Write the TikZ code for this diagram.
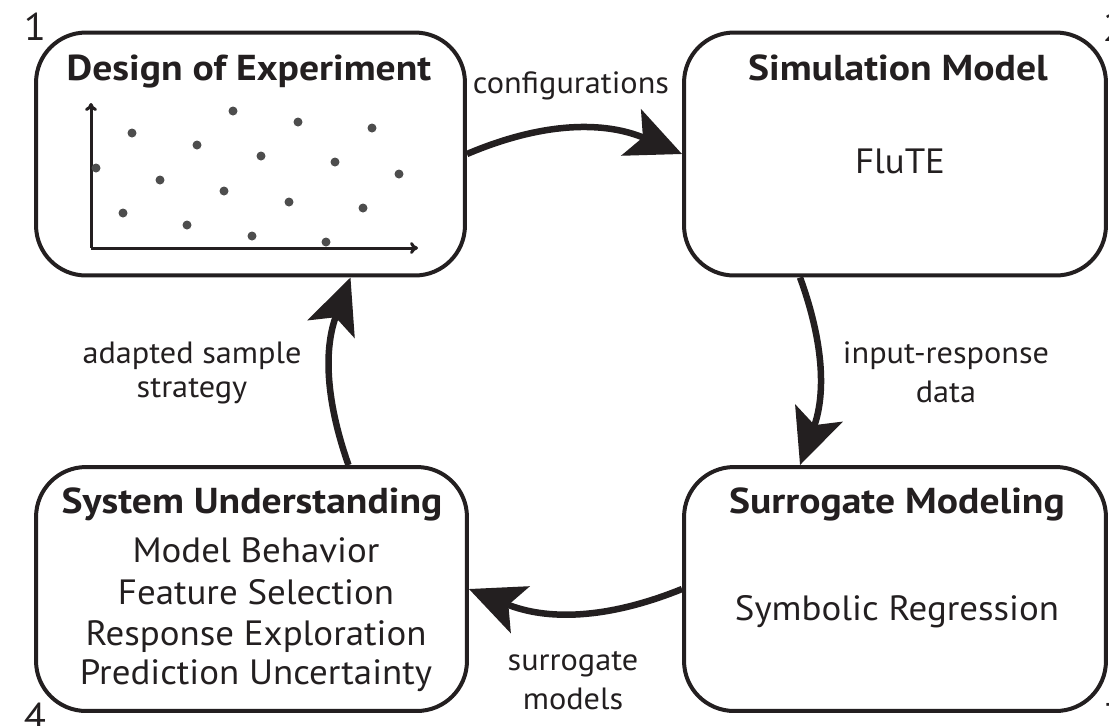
\documentclass[tikz,border=0pt]{standalone}
\usepackage{fontspec}
\setmainfont{PT Sans}[FakeStretch=1.05, BoldFeatures={FakeStretch=1.1}]
\usetikzlibrary{arrows.meta,calc}
\definecolor{ink}{HTML}{231F20}
\definecolor{dotc}{HTML}{4D4D4D}
\begin{document}
\begin{tikzpicture}[x=0.02cm,y=-0.02cm,
  box/.style={draw=ink, line width=0.08cm, rounded corners=1cm, inner sep=0pt, minimum height=4.86cm},
  ttl/.style={anchor=base, text=ink, font=\fontsize{20.5}{23}\selectfont\bfseries, inner sep=0pt},
  body/.style={anchor=base, text=ink, font=\fontsize{20}{22.7}\selectfont, inner sep=0pt, align=center},
  lbl/.style={anchor=base, text=ink, font=\fontsize{17.5}{22}\selectfont, inner sep=0pt, align=center},
  num/.style={text=ink, font=\fontsize{22}{24}\selectfont, inner sep=0pt},
  cyc/.style={draw=ink, line width=0.13cm, -{Stealth[length=1.1cm, width=1.0cm, inset=0.25cm]}},
  axis/.style={draw=ink, line width=0.06cm, -{To[length=0.16cm, width=0.24cm]}},
  pt/.style={fill=dotc}
]
\useasboundingbox (0,0) rectangle (1109,725);

% boxes
\node[box, minimum width=8.58cm] (b1) at (250.5,154) {};
\node[box, minimum width=8.44cm] (b2) at (895,154) {};
\node[box, minimum width=8.62cm, minimum height=4.88cm] (b3) at (251.5,589) {};
\node[box, minimum width=8.44cm, minimum height=4.88cm] (b4) at (895,589) {};

% titles and contents
\node[ttl] (t1) at (249,80) {Design of Experiment};
\node[ttl] (t2) at (898,80) {Simulation Model};
\node[ttl] (t3) at (252,513) {System Understanding};
\node[ttl] (t4) at (897,513) {Surrogate Modeling};
\node[body] (c2) at (900,173) {FluTE};
\node[body] (c4) at (897,620) {Symbolic Regression};
\node[body] (c3a) at (256,562) {Model Behavior};
\node[body] (c3b) at (256,604) {Feature Selection};
\node[body] (c3c) at (256,645) {Response Exploration};
\node[body] (c3d) at (256,684) {Prediction Uncertainty};

% scatter plot
\coordinate (o) at (91,248);
\coordinate (ytip) at (91,103);
\coordinate (xtip) at (418,248);
\draw[axis] (o) -- (ytip);
\draw[axis] (o) -- (xtip);
\foreach \x/\y in {132/133,233/111,298/122,372/128,197/145,261/156,335/162,399/174,
  96/168,160/180,224/191,289/202,363/208,123/213,187/225,252/236,326/242}
  \fill[pt] (\x,\y) circle (0.09cm);

% cycle arrows
\draw[cyc] (b1.east) to[bend left=23] (b2.west);
\draw[cyc] ([xshift=-1.9cm]b2.south) to[bend left=20] ([xshift=-1.9cm]b4.north);
\draw[cyc] (b4.west) to[bend left=22] (b3.east);
\draw[cyc] ([xshift=1.94cm]b3.north) to[bend left=20] ([xshift=2.0cm]b1.south);

% arrow labels
\node[lbl] (l1) at (571,93) {configurations};
\node[lbl] (l2a) at (946,363) {input-response};
\node[lbl] (l2b) at (946,402) {data};
\node[lbl] (l3a) at (573,670) {surrogate};
\node[lbl] (l3b) at (573,709) {models};
\node[lbl] (l4a) at (192,363) {adapted sample};
\node[lbl] (l4b) at (192,397) {strategy};

% corner numbers (partly cut off by the picture's edge, as in the original)
\node[num] (n1) at (35,27) {1};
\node[num] (n2) at (1114,28) {2};
\node[num] (n3) at (1114,717) {3};
\node[num] (n4) at (35,717) {4};
\end{tikzpicture}
\end{document}
